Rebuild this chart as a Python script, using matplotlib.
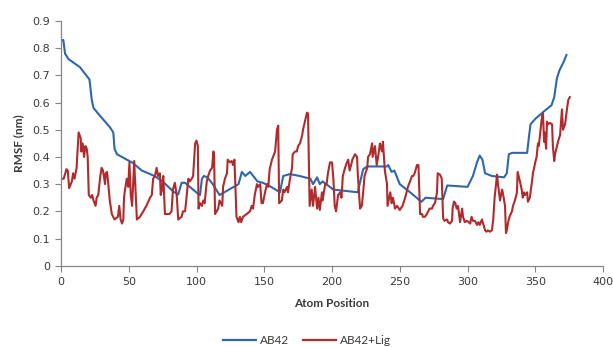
import matplotlib
matplotlib.use("Agg")
import matplotlib.pyplot as plt
from matplotlib.lines import Line2D

# ---- data ----
ab42_x = [0, 1.7, 3, 5.5, 14, 21, 22.7, 24, 29, 36, 38.6, 39.5, 41.3, 53, 59.6, 69, 75, 83, 86.5,
          89, 91.5, 101, 102.6, 104, 105.5, 108, 112, 117, 124, 131, 133.5, 136, 139.5, 145, 149,
          155, 161.6, 164, 169, 176, 184, 186, 189, 191, 193, 201, 210, 219, 223, 226, 240.6, 241.5,
          244, 246, 250, 257.6, 266, 269, 282, 285, 300, 304, 307, 309, 311, 313, 318, 327, 329,
          330.5, 333, 344, 345.5, 346.5, 350, 357, 362, 364, 366, 368, 371, 373]
ab42_y = [0.83, 0.83, 0.78, 0.76, 0.73, 0.685, 0.61, 0.58, 0.55, 0.51, 0.49, 0.43, 0.41, 0.378, 0.35,
          0.33, 0.31, 0.272, 0.262, 0.305, 0.305, 0.265, 0.26, 0.32, 0.33, 0.325, 0.30, 0.26, 0.28,
          0.30, 0.345, 0.33, 0.345, 0.31, 0.305, 0.29, 0.27, 0.33, 0.337, 0.33, 0.32, 0.30, 0.325,
          0.30, 0.31, 0.28, 0.275, 0.27, 0.355, 0.365, 0.365, 0.37, 0.345, 0.35, 0.30, 0.27, 0.235,
          0.25, 0.245, 0.295, 0.29, 0.33, 0.38, 0.405, 0.39, 0.34, 0.33, 0.325, 0.34, 0.41, 0.415,
          0.415, 0.48, 0.52, 0.54, 0.57, 0.59, 0.62, 0.69, 0.72, 0.75, 0.775]

lig_x = [0, 2, 4, 5, 6, 8, 9, 10, 11.5, 13, 14.5, 15, 16, 17, 18, 19, 19.7, 20.5, 22, 23, 24, 25.5,
         26.3, 27.5, 29, 30, 31, 32.5, 33, 34, 35, 36, 37.5, 39.5, 42, 43, 44, 45, 46, 46.5, 47, 48.5,
         49.6, 50.5, 51.5, 52.5, 54, 55.3, 56, 58.3, 60.7, 63, 65.7, 67, 68, 69.3, 70.6, 71.6, 73,
         73.6, 74.5, 75.5, 76.7, 77.8, 80, 81.6, 82.6, 84, 85.4, 86.5, 89, 90, 91.6, 93, 94, 95, 96.5,
         97.5, 99, 100, 101, 101.5, 102.6, 104, 105, 106, 107.6, 108.6, 110, 111.5, 112.5, 113, 113.7,
         116, 117, 119, 119.6, 121, 122.5, 123, 124.7, 126, 127, 128, 129.5, 131, 132, 133, 134.3, 137,
         139.5, 140.7, 141.7, 143, 144.6, 145.4, 147, 148, 149, 150.6, 152, 153, 154, 155.7, 156.5, 158,
         159.4, 160.3, 161, 163, 164, 165, 166.8, 167.5, 169, 170.5, 171, 172.7, 174, 175, 176.4, 178,
         178.6, 180, 181.5, 182.3, 183.5, 185, 186, 187.5, 189, 190, 191, 192.6, 193, 195, 196, 197,
         198.5, 200, 201, 202, 203, 204.5, 206, 207, 208, 209.6, 211, 212, 213, 214.6, 215, 217, 218.5,
         219, 220.7, 222, 223, 224, 226, 226.6, 228, 229.6, 230, 231.7, 233, 234, 235.4, 236.9, 237.6,
         239, 240.6, 241, 243, 244, 245, 246.5, 248, 250, 252, 254, 255, 256, 257.6, 259, 260, 261,
         262.7, 263.8, 265, 266.5, 267, 268.6, 270, 271, 272, 273.8, 274.5, 276, 277.5, 278, 279.7, 281,
         282, 283, 285, 285.6, 287, 288.6, 289, 290, 291, 292, 293, 294.5, 296, 296.7, 298, 299.6, 302,
         303, 304, 305.5, 307, 308, 309, 310.7, 311.5, 313, 314, 315, 316.6, 318, 319, 320, 321.8, 322.5,
         324, 325.5, 326, 327.7, 328.4, 329, 330, 331, 332.8, 333.6, 335, 336.5, 337, 338.7, 340, 340.8,
         341.7, 342.4, 344, 344.6, 346, 347.6, 348.3, 350, 351, 352, 352.6, 353.5, 355, 355.7, 356.5,
         357, 358, 358.7, 359.4, 361, 362.4, 363, 364, 364.6, 366, 367, 368.3, 369.7, 370.5, 371.2, 372,
         373.5, 374.4, 375.5]
lig_y = [0.32, 0.32, 0.355, 0.35, 0.285, 0.31, 0.34, 0.32, 0.36, 0.49, 0.47, 0.42, 0.45, 0.40, 0.44,
         0.43, 0.40, 0.26, 0.25, 0.26, 0.24, 0.22, 0.25, 0.26, 0.33, 0.36, 0.35, 0.30, 0.34, 0.345,
         0.295, 0.24, 0.19, 0.17, 0.18, 0.22, 0.17, 0.155, 0.17, 0.25, 0.27, 0.32, 0.29, 0.38, 0.26,
         0.22, 0.385, 0.25, 0.17, 0.18, 0.20, 0.22, 0.25, 0.26, 0.32, 0.33, 0.36, 0.33, 0.34, 0.26,
         0.28, 0.33, 0.19, 0.19, 0.19, 0.20, 0.28, 0.305, 0.26, 0.17, 0.18, 0.20, 0.20, 0.27, 0.32,
         0.31, 0.32, 0.33, 0.45, 0.46, 0.44, 0.21, 0.23, 0.22, 0.24, 0.23, 0.31, 0.33, 0.35, 0.36,
         0.42, 0.40, 0.19, 0.21, 0.24, 0.22, 0.29, 0.32, 0.34, 0.39, 0.38, 0.385, 0.37, 0.39, 0.18,
         0.16, 0.18, 0.16, 0.18, 0.19, 0.20, 0.22, 0.21, 0.26, 0.30, 0.29, 0.30, 0.23, 0.23, 0.27,
         0.30, 0.29, 0.355, 0.39, 0.40, 0.42, 0.50, 0.515, 0.23, 0.24, 0.28, 0.27, 0.29, 0.27, 0.32,
         0.36, 0.41, 0.42, 0.42, 0.44, 0.45, 0.48, 0.50, 0.53, 0.563, 0.56, 0.22, 0.28, 0.22, 0.29,
         0.21, 0.25, 0.205, 0.27, 0.24, 0.30, 0.30, 0.34, 0.38, 0.38, 0.32, 0.22, 0.20, 0.26, 0.27,
         0.25, 0.33, 0.36, 0.38, 0.39, 0.35, 0.38, 0.39, 0.41, 0.40, 0.34, 0.21, 0.22, 0.27, 0.33,
         0.36, 0.40, 0.41, 0.45, 0.40, 0.44, 0.37, 0.40, 0.45, 0.42, 0.456, 0.35, 0.30, 0.22, 0.27,
         0.23, 0.25, 0.21, 0.22, 0.205, 0.22, 0.25, 0.27, 0.29, 0.31, 0.33, 0.33, 0.34, 0.37, 0.37,
         0.19, 0.19, 0.18, 0.18, 0.19, 0.20, 0.21, 0.21, 0.22, 0.23, 0.27, 0.34, 0.335, 0.32, 0.175,
         0.165, 0.17, 0.16, 0.155, 0.165, 0.21, 0.236, 0.23, 0.21, 0.22, 0.16, 0.21, 0.18, 0.16, 0.165,
         0.155, 0.18, 0.165, 0.165, 0.15, 0.16, 0.15, 0.17, 0.155, 0.13, 0.125, 0.13, 0.125, 0.13,
         0.17, 0.25, 0.335, 0.30, 0.24, 0.28, 0.27, 0.22, 0.12, 0.13, 0.16, 0.18, 0.20, 0.22, 0.24,
         0.27, 0.345, 0.31, 0.28, 0.25, 0.27, 0.26, 0.27, 0.235, 0.25, 0.31, 0.34, 0.38, 0.40, 0.45,
         0.44, 0.48, 0.55, 0.56, 0.456, 0.49, 0.43, 0.53, 0.52, 0.525, 0.52, 0.44, 0.385, 0.41, 0.44,
         0.46, 0.48, 0.575, 0.50, 0.51, 0.52, 0.58, 0.61, 0.62]

x_ticks = [0, 50, 100, 150, 200, 250, 300, 350, 400]
y_ticks = [0, 0.1, 0.2, 0.3, 0.4, 0.5, 0.6, 0.7, 0.8, 0.9]
series_names = ["AB42", "AB42+Lig"]

blue = "#2E67AE"
red = "#B12A2C"
grey = "#868686"
text_c = "#3a3a3a"

fig = plt.figure(figsize=(6.13, 3.47), dpi=100)
ax = fig.add_axes([61 / 613, 1 - 265.7 / 347, 542 / 613, (265.7 - 21) / 347])

ax.plot(ab42_x, ab42_y, color=blue, lw=1.5, solid_joinstyle="round")
ax.plot(lig_x, lig_y, color=red, lw=1.5, solid_joinstyle="round")

ax.set_xlim(0, 400)
ax.set_ylim(0, 0.9)
ax.set_xticks(x_ticks)
ax.set_yticks(y_ticks)
ax.set_xticklabels([str(t) for t in x_ticks])
ax.set_yticklabels(["0" if t == 0 else f"{t:.1f}" for t in y_ticks])

for s in ["top", "right"]:
    ax.spines[s].set_visible(False)
for s in ["left", "bottom"]:
    ax.spines[s].set_color(grey)
    ax.spines[s].set_linewidth(0.9)
ax.tick_params(axis="both", direction="out", length=4, width=0.8, color=grey,
               labelsize=8, labelcolor=text_c, pad=4)

ax.set_xlabel("Atom Position", fontsize=8.5, fontweight="bold", color=text_c,
              family="Lato", labelpad=8)
ax.set_ylabel("RMSF (nm)", fontsize=8.5, fontweight="bold", color=text_c,
              family="Lato", labelpad=6)

handles = [Line2D([0], [0], color=blue, lw=1.6), Line2D([0], [0], color=red, lw=1.6)]
fig.legend(handles, series_names, loc="center", bbox_to_anchor=(307 / 613, 1 - 341 / 347),
           ncol=2, frameon=False, prop={"family": "Lato", "size": 8.5},
           labelcolor=text_c, handlelength=2.8, handletextpad=0.3, columnspacing=1.2)

fig.savefig("out.png", dpi=100)
